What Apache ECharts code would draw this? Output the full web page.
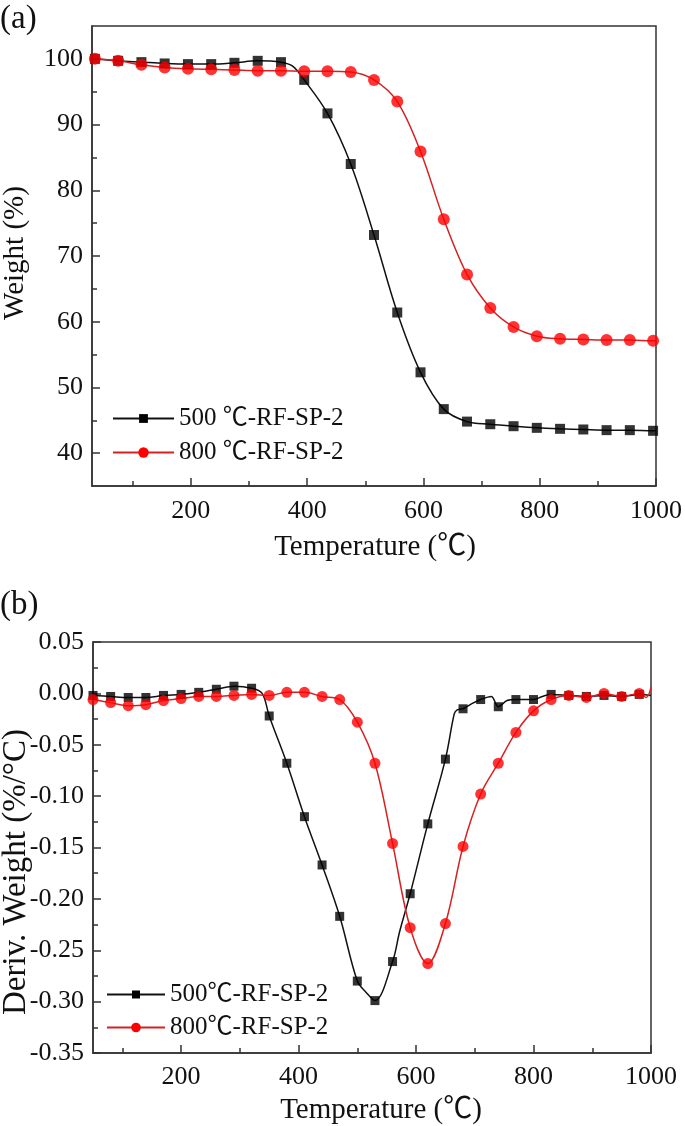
<!DOCTYPE html>
<html><head><meta charset="utf-8">
<script src="https://cdn.jsdelivr.net/npm/echarts@6/dist/echarts.min.js"></script>
<style>html,body{margin:0;padding:0;background:#fff}#c{width:685px;height:1126px}</style>
</head><body><div id="c"></div>
<script>
const FONT = "'Liberation Serif','Times New Roman','Noto Sans CJK SC',serif";

// ---------- Panel (a): TGA weight ----------
const aMarkX = [35,75,115,155,195,235,275,315,355,395,435,475,515,555,595,635,675,715,755,795,835,875,915,955,995];
const a500Mark = [100.0,99.7,99.5,99.3,99.2,99.2,99.4,99.7,99.5,96.8,91.7,84.0,73.2,61.4,52.3,46.7,44.8,44.4,44.1,43.85,43.7,43.6,43.5,43.5,43.4];
const a800Mark = [100.0,99.7,99.1,98.7,98.5,98.4,98.3,98.2,98.2,98.1,98.1,98.0,96.8,93.5,85.9,75.6,67.2,62.1,59.2,57.8,57.4,57.3,57.2,57.2,57.1];
const a500ExtraX = [375,1000];
const a500ExtraY = [98.9,43.4];
const a800ExtraX = [1000];
const a800ExtraY = [57.1];
const aXMajor = [200,400,600,800,1000];
const aXMinor = [100,300,500,700,900];
const aYMajor = [40,50,60,70,80,90,100];
const aYMinor = [45,55,65,75,85,95];

// ---------- Panel (b): DTG ----------
const bMarkX = [50,80,110,140,170,200,230,260,290,320,350,380,410,440,470,500,530,560,590,620,650,680,710,740,770,800,830,860,890,920,950,980];
const b500Mark = [-0.002,-0.003,-0.004,-0.004,-0.002,-0.001,0.001,0.004,0.007,0.005,-0.022,-0.068,-0.120,-0.167,-0.217,-0.280,-0.299,-0.261,-0.195,-0.127,-0.064,-0.015,-0.006,-0.013,-0.006,-0.006,-0.001,-0.002,-0.003,-0.002,-0.003,-0.001];
const b800Mark = [-0.006,-0.009,-0.012,-0.011,-0.007,-0.005,-0.003,-0.003,-0.002,-0.001,-0.002,0.001,0.001,-0.003,-0.006,-0.028,-0.068,-0.146,-0.228,-0.263,-0.224,-0.149,-0.098,-0.068,-0.038,-0.017,-0.006,-0.002,-0.004,0.000,-0.003,0.000];
const b500ExtraX = [338,515,572,665,670,695,728,755,815,1000];
const b500ExtraY = [0.000,-0.291,-0.232,-0.020,-0.016,-0.010,-0.003,-0.007,-0.003,-0.002];
const b800ExtraX = [992,1000];
const b800ExtraY = [-0.004,0.006];
const bXMajor = [200,400,600,800,1000];
const bXMinor = [100,300,500,700,900];
const bYMajor = [-0.35,-0.30,-0.25,-0.20,-0.15,-0.10,-0.05,0.00,0.05];
const bYMinor = [-0.325,-0.275,-0.225,-0.175,-0.125,-0.075,-0.025,0.025];

const names = ['500 \u2103-RF-SP-2','800 \u2103-RF-SP-2','500\u2103-RF-SP-2','800\u2103-RF-SP-2'];

function pairs(xs, ys){ return xs.map((x,i)=>[x, ys[i]]); }
function lineData(mx, my, ex, ey){
  return pairs(mx,my).concat(pairs(ex,ey)).sort((p,q)=>p[0]-q[0]);
}

const AX = '#333';
function majorAxis(pos, gi, min, max, ticks, fmt, margin){
  return { type:'value', gridIndex:gi, min:min, max:max, position:pos,
    axisLine:{show:true, onZero:false, lineStyle:{color:AX, width:1.5}},
    axisTick:{show:true, inside:true, length:8, customValues:ticks, lineStyle:{color:AX, width:1.5}},
    axisLabel:{show:true, customValues:ticks, formatter:fmt, color:'#111', fontFamily:FONT, fontSize:26, margin:margin},
    splitLine:{show:false} };
}
function minorAxis(pos, gi, min, max, ticks){
  return { type:'value', gridIndex:gi, min:min, max:max, position:pos,
    axisLine:{show:false, onZero:false},
    axisTick:{show:true, inside:true, length:5, customValues:ticks, lineStyle:{color:AX, width:1.5}},
    axisLabel:{show:false}, splitLine:{show:false} };
}

const fmtInt = v => String(Math.round(v));
const fmt2 = v => (Math.abs(v) < 1e-9 ? 0 : v).toFixed(2);

const BLACK = '#000', BLINE = '#111', RED = '#ff0000', RLINE = '#d82020';

function lineSeries(name, xi, yi, data, color, lcolor, sym){
  return { name:name, type:'line', xAxisIndex:xi, yAxisIndex:yi, data:data, smooth:0.35,
    showSymbol:false, symbol:sym, lineStyle:{color:lcolor, width:1.5}, itemStyle:{color:color},
    emphasis:{disabled:true}, z:2 };
}
function markSeries(name, xi, yi, data, color, sym, size, z){
  return { name:name, type:'scatter', xAxisIndex:xi, yAxisIndex:yi, data:data, symbol:sym, symbolSize:size,
    itemStyle:{color:color}, emphasis:{disabled:true}, z:z };
}

const legendText = {fontFamily:FONT, fontSize:25, color:'#111'};
const option = {
  animation:false,
  backgroundColor:'#fff',
  grid:[
    {left:92, right:27, top:26, bottom:640, show:true, borderColor:AX, borderWidth:1.5},
    {left:93, right:34, top:642, bottom:73, show:true, borderColor:AX, borderWidth:1.5}
  ],
  xAxis:[
    majorAxis('bottom',0,30,1000,aXMajor,fmtInt,12),
    minorAxis('bottom',0,30,1000,aXMinor),
    majorAxis('bottom',1,50,1000,bXMajor,fmtInt,11),
    minorAxis('bottom',1,50,1000,bXMinor)
  ],
  yAxis:[
    majorAxis('left',0,35,105,aYMajor,fmtInt,9),
    minorAxis('left',0,35,105,aYMinor),
    majorAxis('left',1,-0.35,0.05,bYMajor,fmt2,9),
    minorAxis('left',1,-0.35,0.05,bYMinor)
  ],
  legend:[
    {data:[names[0]], left:112, top:406, padding:0, itemWidth:61, itemHeight:11, textStyle:legendText, selectedMode:false},
    {data:[names[1]], left:112, top:440, padding:0, itemWidth:61, itemHeight:13, textStyle:legendText, selectedMode:false},
    {data:[names[2]], left:106, top:982, padding:0, itemWidth:58, itemHeight:10, textStyle:legendText, selectedMode:false},
    {data:[names[3]], left:106, top:1015, padding:0, itemWidth:58, itemHeight:12, textStyle:legendText, selectedMode:false}
  ],
  graphic:[
    {type:'text', x:0, y:19, style:{text:'(a)', fontFamily:FONT, fontSize:33, fill:'#111', align:'left', verticalAlign:'middle'}},
    {type:'text', x:0, y:605, style:{text:'(b)', fontFamily:FONT, fontSize:33, fill:'#111', align:'left', verticalAlign:'middle'}},
    {type:'text', x:15, y:253, rotation:Math.PI/2, style:{text:'Weight (%)', fontFamily:FONT, fontSize:29, fill:'#111', align:'center', verticalAlign:'middle'}},
    {type:'text', x:375, y:547, style:{text:'Temperature (\u2103)', fontFamily:FONT, fontSize:29, fill:'#111', align:'center', verticalAlign:'middle'}},
    {type:'text', x:16, y:872, rotation:Math.PI/2, style:{text:'Deriv. Weight (%/\u00b0C)', fontFamily:FONT, fontSize:33, fill:'#111', align:'center', verticalAlign:'middle'}},
    {type:'text', x:381, y:1110, style:{text:'Temperature (\u2103)', fontFamily:FONT, fontSize:29, fill:'#111', align:'center', verticalAlign:'middle'}}
  ],
  series:[
    lineSeries(names[0],0,0,lineData(aMarkX,a500Mark,a500ExtraX,a500ExtraY),BLACK,BLINE,'rect'),
    markSeries('a500m',0,0,pairs(aMarkX,a500Mark),BLACK,'rect',10,3),
    lineSeries(names[1],0,0,lineData(aMarkX,a800Mark,a800ExtraX,a800ExtraY),RED,RLINE,'circle'),
    markSeries('a800m',0,0,pairs(aMarkX,a800Mark),RED,'circle',12,4),
    lineSeries(names[2],2,2,lineData(bMarkX,b500Mark,b500ExtraX,b500ExtraY),BLACK,BLINE,'rect'),
    markSeries('b500m',2,2,pairs(bMarkX,b500Mark),BLACK,'rect',9,3),
    lineSeries(names[3],2,2,lineData(bMarkX,b800Mark,b800ExtraX,b800ExtraY),RED,RLINE,'circle'),
    markSeries('b800m',2,2,pairs(bMarkX,b800Mark),RED,'circle',11,4)
  ]
};
const chart = echarts.init(document.getElementById('c'), null, {renderer:'canvas'});
chart.setOption(option);
</script>
</body></html>
